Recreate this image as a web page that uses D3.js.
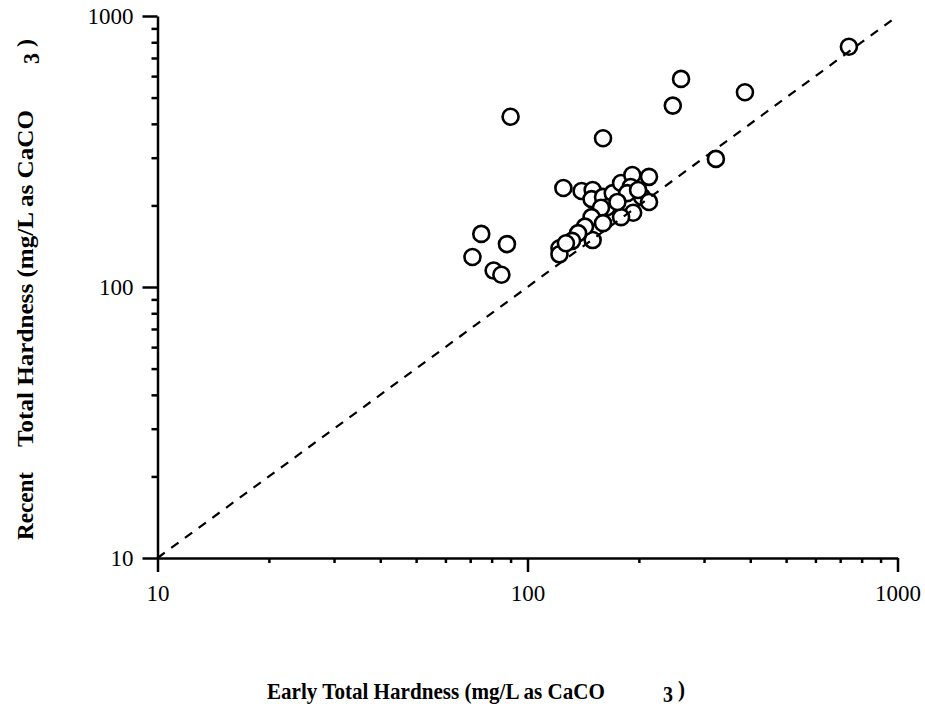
<!DOCTYPE html>
<html>
<head>
<meta charset="utf-8">
<script src="https://cdn.jsdelivr.net/npm/d3@7"></script>
<style>
  body { margin: 0; background: #fff; }
  svg { display: block; font-family: "Liberation Serif", "Times New Roman", serif; }
</style>
</head>
<body>
<svg id="chart"></svg>
<script>
// early (x) vs recent (y) total hardness, mg/L as CaCO3
const earlyHardness = [
  90, 160, 247, 260, 387, 739, 323,
  75, 88, 71, 81, 85,
  125, 140, 150, 149, 160, 170, 179, 192, 213, 190, 186, 204, 213,
  193, 179, 164, 158, 149, 160, 150, 143, 137, 132, 122, 122, 127, 175, 199
];
const recentHardness = [
  425, 354, 467, 586, 523, 770, 297,
  157, 144, 129, 115, 111,
  232, 226, 228, 211, 215, 222, 242, 259, 255, 234, 222, 215, 206,
  188, 181, 197, 196, 181, 172, 149, 167, 158, 148, 139, 132, 145, 206, 228
];
const lineOfEquality = [10, 1000];
const majorTicks = [10, 100, 1000];
const minorTicks = [20, 30, 40, 50, 60, 70, 80, 90, 200, 300, 400, 500, 600, 700, 800, 900];

class HardnessScatter {
    constructor(config, data) {
        this.config = {
            parentElement: config.parentElement,
        }
        this.data = data;
        this.initVis();
    }

    initVis() {
        this.width = 925;
        this.height = 707;

        this.svg = d3.select(this.config.parentElement)
            .attr("width", this.width)
            .attr("height", this.height)
            .attr("viewBox", `0 0 ${this.width} ${this.height}`);

        this.x = d3.scaleLog().domain([10, 1000]).range([157.5, 897.5]);
        this.y = d3.scaleLog().domain([10, 1000]).range([558, 16]);

        this.renderVis();
    }

    renderVis() {
        const x = this.x, y = this.y;
        const fmt = d => d3.format("d")(d);

        // minor ticks
        this.svg.append("g")
            .attr("transform", `translate(0,${y(10)})`)
            .call(d3.axisBottom(x).tickValues(minorTicks).tickSize(5).tickSizeOuter(0).tickFormat(""))
            .call(g => g.select(".domain").remove());
        this.svg.append("g")
            .attr("transform", `translate(${x(10)},0)`)
            .call(d3.axisLeft(y).tickValues(minorTicks).tickSize(6).tickSizeOuter(0).tickFormat(""))
            .call(g => g.select(".domain").remove());

        // major ticks + labels
        this.svg.append("g")
            .attr("transform", `translate(0,${y(10)})`)
            .call(d3.axisBottom(x).tickValues(majorTicks).tickSize(14).tickSizeOuter(0).tickPadding(13).tickFormat(fmt));
        this.svg.append("g")
            .attr("transform", `translate(${x(10)},0)`)
            .call(d3.axisLeft(y).tickValues(majorTicks).tickSize(15).tickSizeOuter(0).tickPadding(9).tickFormat(fmt));

        this.svg.selectAll(".tick line, .domain")
            .attr("stroke", "#000")
            .attr("stroke-width", 2.5);
        this.svg.selectAll(".tick text")
            .attr("font-family", "Liberation Serif, Times New Roman, serif")
            .attr("font-size", 23)
            .attr("fill", "#000");

        // points
        const pts = earlyHardness.map((e, i) => ({ early: e, recent: recentHardness[i] }));
        this.svg.append("g")
            .selectAll("circle")
            .data(pts)
            .join("circle")
            .attr("cx", d => x(d.early))
            .attr("cy", d => y(d.recent))
            .attr("r", 8)
            .attr("fill", "#fff")
            .attr("stroke", "#000")
            .attr("stroke-width", 2.6);

        // 1:1 line
        this.svg.append("path")
            .datum(lineOfEquality)
            .attr("d", d3.line().x(d => x(d)).y(d => y(d)))
            .attr("fill", "none")
            .attr("stroke", "#000")
            .attr("stroke-width", 2.2)
            .attr("stroke-dasharray", "9,8");

        // axis titles
        const title = (parent, str, xPos, yPos, len) => parent.append("text")
            .attr("x", xPos).attr("y", yPos)
            .attr("font-size", 24)
            .attr("font-weight", "bold")
            .attr("textLength", len)
            .attr("lengthAdjust", "spacingAndGlyphs")
            .text(str);

        const xt = this.svg.append("g");
        title(xt, "Early Total Hardness (mg/L as CaCO", 267, 699, 338);
        title(xt, "3", 663, 702, 10);
        title(xt, ")", 678, 697, 7);

        const yt = this.svg.append("g").attr("transform", "rotate(-90)");
        title(yt, "Recent", -540, 33, 68);
        title(yt, "Total Hardness (mg/L as CaCO", -447, 33, 337);
        title(yt, "3", -64, 39, 11);
        title(yt, ")", -47, 33, 8);
    }
}

new HardnessScatter({ parentElement: document.getElementById("chart") }, null);
</script>
</body>
</html>
